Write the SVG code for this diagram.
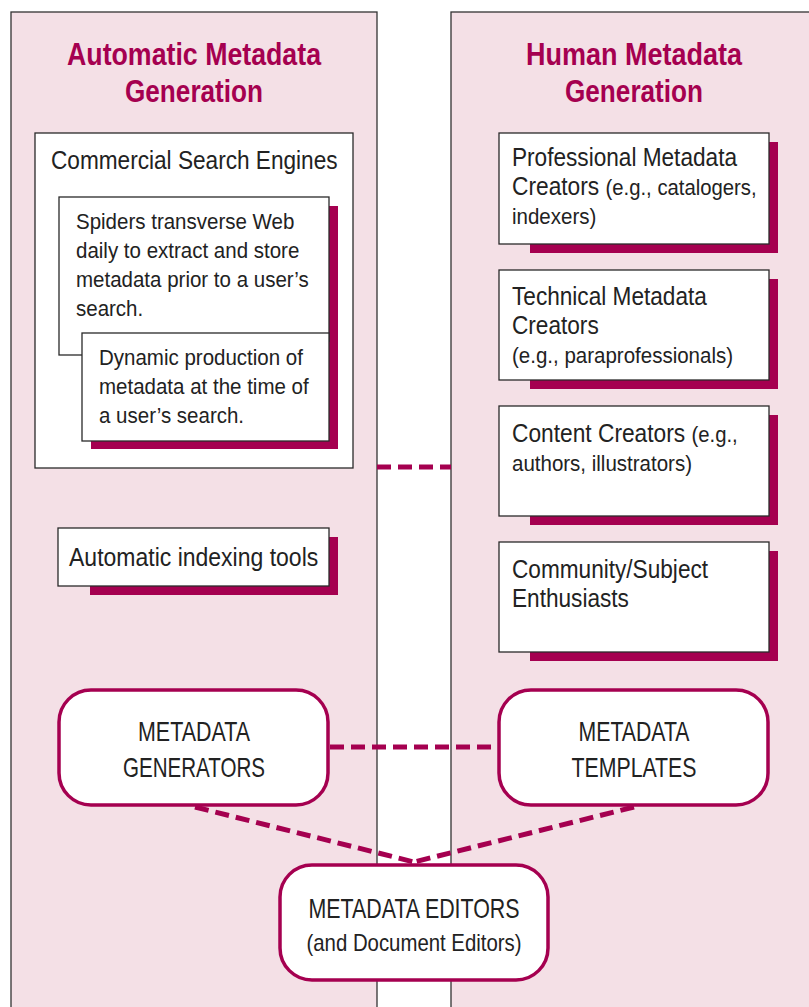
<svg xmlns="http://www.w3.org/2000/svg" width="809" height="1007" viewBox="0 0 809 1007">
  <defs>
    <style>
      .panel { fill: #F4E0E6; stroke: #333; stroke-width: 1.3; }
      .box { fill: #fff; stroke: #2a2a2a; stroke-width: 1.3; }
      .shadow { fill: #A50050; }
      .pill { fill: #fff; stroke: #A50050; stroke-width: 3.5; }
      .dash { fill: none; stroke: #A50050; stroke-width: 5; stroke-dasharray: 14 7; }
      .title { font-family: "Liberation Sans", Arial, sans-serif; font-weight: bold; font-size: 31.5px; fill: #A50050; text-anchor: middle; }
      .t { font-family: "Liberation Sans", Arial, sans-serif; font-size: 25px; fill: #222; }
      .s { font-family: "Liberation Sans", Arial, sans-serif; font-size: 22.3px; fill: #222; }
      .cap { font-family: "Liberation Sans", Arial, sans-serif; font-size: 28px; fill: #222; text-anchor: middle; }
      .capsub { font-family: "Liberation Sans", Arial, sans-serif; font-size: 24px; fill: #222; text-anchor: middle; }
    </style>
  </defs>

  <rect width="809" height="1007" fill="#fff"/>

  <!-- two columns -->
  <g id="panel-automatic">
    <rect class="panel" x="11" y="12" width="366" height="1010"/>
    <text class="title" x="194" y="65" textLength="254" lengthAdjust="spacingAndGlyphs">Automatic Metadata</text>
    <text class="title" x="194" y="102" textLength="138" lengthAdjust="spacingAndGlyphs">Generation</text>
  </g>
  <g id="panel-human">
    <rect class="panel" x="451" y="12" width="370" height="1010"/>
    <text class="title" x="634" y="65" textLength="216" lengthAdjust="spacingAndGlyphs">Human Metadata</text>
    <text class="title" x="634" y="102" textLength="138" lengthAdjust="spacingAndGlyphs">Generation</text>
  </g>

  <!-- connectors -->
  <g id="connectors">
    <line class="dash" x1="377" y1="467" x2="451" y2="467"/>
    <line class="dash" x1="330" y1="747" x2="499" y2="747"/>
    <line class="dash" x1="195" y1="807" x2="414" y2="862"/>
    <line class="dash" x1="634" y1="807" x2="414" y2="862"/>
  </g>

  <!-- automatic side (body text set slightly condensed) -->
  <g id="commercial-search-engines">
    <rect class="box" x="35" y="133" width="318" height="335"/>
    <text class="t" transform="translate(51 169) scale(0.905 1)">Commercial Search Engines</text>
  </g>
  <g id="spiders">
    <rect class="shadow" x="320" y="206" width="18" height="140"/>
    <rect class="box" x="59" y="197" width="270" height="158"/>
    <text class="s" transform="translate(76 229) scale(0.92 1)">Spiders transverse Web</text>
    <text class="s" transform="translate(76 258) scale(0.92 1)">daily to extract and store</text>
    <text class="s" transform="translate(76 287) scale(0.92 1)">metadata prior to a user’s</text>
    <text class="s" transform="translate(76 316) scale(0.92 1)">search.</text>
  </g>
  <g id="dynamic-production">
    <rect class="shadow" x="91" y="342" width="247" height="107"/>
    <rect class="box" x="82" y="333" width="247" height="108"/>
    <text class="s" transform="translate(99 365) scale(0.92 1)">Dynamic production of</text>
    <text class="s" transform="translate(99 394) scale(0.92 1)">metadata at the time of</text>
    <text class="s" transform="translate(99 423) scale(0.92 1)">a user’s search.</text>
  </g>
  <g id="automatic-indexing-tools">
    <rect class="shadow" x="90" y="537" width="248" height="58"/>
    <rect class="box" x="58" y="528" width="271" height="58"/>
    <text class="t" transform="translate(69 566) scale(0.92 1)">Automatic indexing tools</text>
  </g>

  <!-- human side -->
  <g id="professional-creators">
    <rect class="shadow" x="530" y="142" width="248" height="111"/>
    <rect class="box" x="499" y="133" width="270" height="111"/>
    <text class="t" transform="translate(512 166) scale(0.905 1)">Professional Metadata</text>
    <text class="t" transform="translate(512 195) scale(0.91 1)">Creators <tspan class="s">(e.g., catalogers,</tspan></text>
    <text class="s" transform="translate(512 224) scale(0.92 1)">indexers)</text>
  </g>
  <g id="technical-creators">
    <rect class="shadow" x="530" y="279" width="248" height="110"/>
    <rect class="box" x="499" y="270" width="270" height="110"/>
    <text class="t" transform="translate(512 305) scale(0.905 1)">Technical Metadata</text>
    <text class="t" transform="translate(512 334) scale(0.905 1)">Creators</text>
    <text class="s" transform="translate(512 363) scale(0.92 1)">(e.g., paraprofessionals)</text>
  </g>
  <g id="content-creators">
    <rect class="shadow" x="530" y="415" width="248" height="110"/>
    <rect class="box" x="499" y="406" width="270" height="110"/>
    <text class="t" transform="translate(512 442) scale(0.91 1)">Content Creators <tspan class="s">(e.g.,</tspan></text>
    <text class="s" transform="translate(512 471) scale(0.92 1)">authors, illustrators)</text>
  </g>
  <g id="community-enthusiasts">
    <rect class="shadow" x="530" y="551" width="248" height="110"/>
    <rect class="box" x="499" y="542" width="270" height="110"/>
    <text class="t" transform="translate(512 578) scale(0.905 1)">Community/Subject</text>
    <text class="t" transform="translate(512 607) scale(0.905 1)">Enthusiasts</text>
  </g>

  <!-- tool boxes -->
  <g id="metadata-generators">
    <rect class="pill" x="59" y="690" width="269" height="115" rx="32"/>
    <text class="cap" x="194" y="741" textLength="112" lengthAdjust="spacingAndGlyphs">METADATA</text>
    <text class="cap" x="194" y="777" textLength="142" lengthAdjust="spacingAndGlyphs">GENERATORS</text>
  </g>
  <g id="metadata-templates">
    <rect class="pill" x="499" y="690" width="269" height="115" rx="32"/>
    <text class="cap" x="634" y="741" textLength="111" lengthAdjust="spacingAndGlyphs">METADATA</text>
    <text class="cap" x="634" y="777" textLength="125" lengthAdjust="spacingAndGlyphs">TEMPLATES</text>
  </g>
  <g id="metadata-editors">
    <rect class="pill" x="280" y="865" width="268" height="115" rx="32"/>
    <text class="cap" x="414" y="918" textLength="211" lengthAdjust="spacingAndGlyphs">METADATA EDITORS</text>
    <text class="capsub" x="414" y="951" textLength="215" lengthAdjust="spacingAndGlyphs">(and Document Editors)</text>
  </g>
</svg>
